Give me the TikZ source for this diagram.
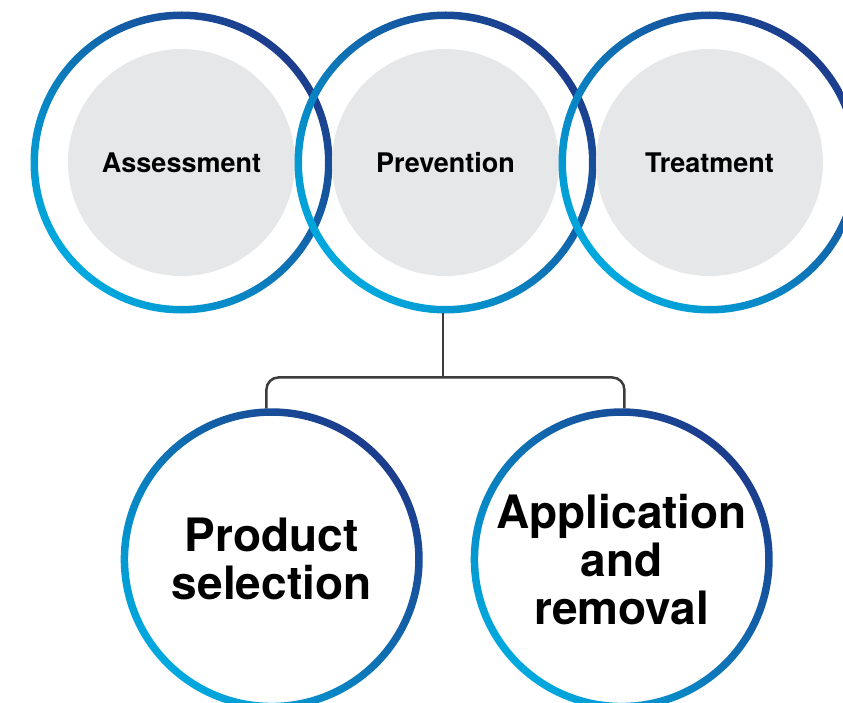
\documentclass[tikz,border=0pt]{standalone}
\usepackage{fontspec}
\setmainfont{TeX Gyre Heros}
\usepackage{tikz}
\usetikzlibrary{positioning}
\definecolor{ringlight}{HTML}{00A9DE}
\definecolor{ringmid}{HTML}{0072BB}
\definecolor{ringdark}{HTML}{1C3C8C}
\definecolor{discgray}{HTML}{E6E7E8}
\definecolor{linegray}{HTML}{3C3C3C}

\begin{document}
\begin{tikzpicture}[x=1pt, y=1pt]
\tikzstyle{ringnode}=[circle, minimum size=302pt, inner sep=0pt, outer sep=0pt, align=center,
    path picture={\shade[even odd rule, left color=ringdark, middle color=ringmid, right color=ringlight, shading angle=-45]
        (path picture bounding box.center) circle (151pt) circle (143.5pt);}]
\tikzstyle{stagenode}=[ringnode, font=\fontsize{27pt}{30pt}\selectfont\bfseries,
    path picture={\fill[discgray] (path picture bounding box.center) circle (113.5pt);
        \shade[even odd rule, left color=ringdark, middle color=ringmid, right color=ringlight, shading angle=-45]
        (path picture bounding box.center) circle (151pt) circle (143.5pt);}]
\tikzstyle{subnode}=[ringnode, font=\fontsize{46pt}{48pt}\selectfont\bfseries]
\tikzstyle{conn}=[draw=linegray, line width=2.5pt, rounded corners=12pt]
    \path[use as bounding box, clip] (0,0) rectangle (843,-703);

    \node (assess) [stagenode] at (181.5,-162.5) {Assessment};
    \node (prevent) [stagenode, right=-38pt of assess] {Prevention};
    \node (treat) [stagenode, right=-38pt of prevent] {Treatment};

    \node (product) [subnode] at (271.7,-559.3) {Product\\selection};
    \node (apply) [subnode, right=48pt of product] {Application\\and\\removal};

    \coordinate [below=64pt of prevent.269] (fork);
    \draw[conn] (prevent.269) -- (fork);
    \draw[conn] (fork) -| (product.92);
    \draw[conn] (fork) -| (apply.89);
\end{tikzpicture}
\end{document}
